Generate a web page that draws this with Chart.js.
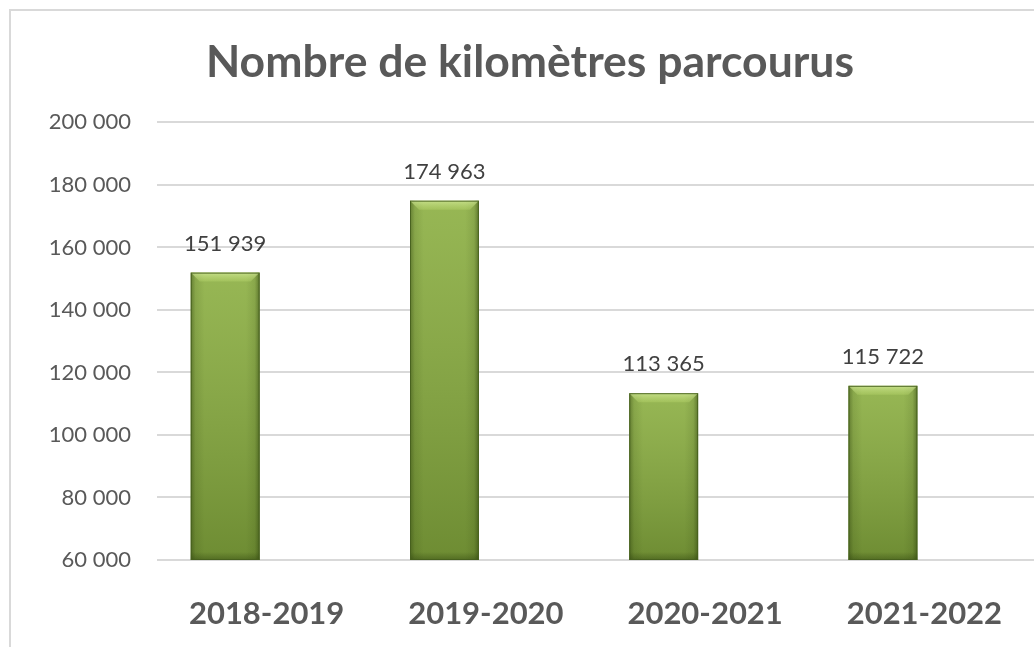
<!DOCTYPE html>
<html>
<head>
<meta charset="utf-8">
<script src="https://cdn.jsdelivr.net/npm/chart.js@4"></script>
<style>
  html, body { margin: 0; padding: 0; background: #ffffff; overflow: hidden; }
  #frame { position: absolute; left: 9px; top: 9px; width: 1040px; height: 660px;
           border-top: 2px solid #d9d9d9; border-left: 2px solid #d9d9d9; box-sizing: border-box; }
  #wrap { position: absolute; left: 0; top: 0; width: 1034px; height: 647px; }
</style>
</head>
<body>
<div id="frame"></div>
<div id="wrap"><canvas id="c"></canvas></div>
<script>
const titleText = 'Nombre de kilomètres parcourus';
const categories = ['2018-2019', '2019-2020', '2020-2021', '2021-2022'];
const kilometres = [151939, 174963, 113365, 115722];
const emptySeries = [null, null, null, null];
const yMin = 60000, yMax = 200000, yStep = 20000;

const fmt = v => String(v).replace(/\B(?=(\d{3})+(?!\d))/g, ' ');

const bevelPlugin = {
  id: 'bevel',
  afterDatasetsDraw(chart) {
    const ctx = chart.ctx;
    const meta = chart.getDatasetMeta(0);
    const area = chart.chartArea;
    meta.data.forEach((bar, i) => {
      const p = bar.getProps(['x', 'y', 'base', 'width'], true);
      const l = p.x - p.width / 2, r = p.x + p.width / 2, t = p.y;
      const b = Math.min(p.base, area.bottom);
      const w = r - l, h = b - t;
      const bv = 9;
      ctx.save();
      let g = ctx.createLinearGradient(0, t, 0, b);
      g.addColorStop(0, 'rgba(255,255,220,0.14)');
      g.addColorStop(1, 'rgba(0,0,0,0.18)');
      ctx.fillStyle = g;
      ctx.fillRect(l, t, w, h);
      g = ctx.createLinearGradient(l, 0, r, 0);
      g.addColorStop(0, 'rgba(40,60,10,0.45)');
      g.addColorStop(0.07, 'rgba(40,60,10,0.12)');
      g.addColorStop(0.2, 'rgba(40,60,10,0)');
      g.addColorStop(0.8, 'rgba(40,60,10,0)');
      g.addColorStop(0.93, 'rgba(40,60,10,0.12)');
      g.addColorStop(1, 'rgba(40,60,10,0.5)');
      ctx.fillStyle = g;
      ctx.fillRect(l, t, w, h);
      g = ctx.createLinearGradient(0, b - 8, 0, b);
      g.addColorStop(0, 'rgba(40,60,10,0)');
      g.addColorStop(1, 'rgba(40,60,10,0.4)');
      ctx.fillStyle = g;
      ctx.fillRect(l, b - 8, w, 8);
      ctx.beginPath();
      ctx.moveTo(l, t);
      ctx.lineTo(r, t);
      ctx.lineTo(r - bv, t + bv);
      ctx.lineTo(l + bv, t + bv);
      ctx.closePath();
      g = ctx.createLinearGradient(0, t, 0, t + bv);
      g.addColorStop(0, 'rgba(235,255,180,0.55)');
      g.addColorStop(1, 'rgba(200,230,120,0.25)');
      ctx.fillStyle = g;
      ctx.fill();
      ctx.strokeStyle = 'rgba(70,95,30,0.9)';
      ctx.lineWidth = 1;
      ctx.strokeRect(l + 0.5, t + 0.5, w - 1, h - 1);
      ctx.restore();

      ctx.save();
      ctx.font = '22px Lato';
      ctx.fillStyle = '#404040';
      ctx.textAlign = 'center';
      ctx.textBaseline = 'middle';
      ctx.fillText(fmt(kilometres[i]), p.x, t - 29);
      ctx.restore();
    });
  }
};

new Chart(document.getElementById('c'), {
  type: 'bar',
  data: {
    labels: categories,
    datasets: [
      { label: 'Kilomètres', data: kilometres, backgroundColor: '#86ab3e', borderWidth: 0,
        categoryPercentage: 0.756, barPercentage: 0.831 },
      { label: '', data: emptySeries, backgroundColor: 'transparent',
        categoryPercentage: 0.756, barPercentage: 0.831 }
    ]
  },
  options: {
    responsive: true,
    maintainAspectRatio: false,
    animation: false,
    layout: { padding: { left: 26, right: 0, top: 0, bottom: 0 } },
    plugins: {
      legend: { display: false },
      tooltip: { enabled: false },
      title: {
        display: true, text: titleText, color: '#595959',
        font: { family: 'Lato', size: 44.5, weight: 'bold', lineHeight: 1.2 },
        padding: { top: 36, bottom: 33 }
      }
    },
    scales: {
      x: {
        grid: { display: false },
        border: { display: false },
        ticks: { color: '#595959', padding: 27, font: { family: 'Lato', size: 31, weight: 'bold' } },
        afterFit(scale) { scale.height = 87; }
      },
      y: {
        min: yMin, max: yMax,
        grid: { color: '#d9d9d9', lineWidth: 2, drawTicks: false },
        border: { display: false },
        ticks: { stepSize: yStep, color: '#595959', padding: 26, font: { family: 'Lato', size: 22 },
                 callback: v => fmt(v) },
        afterFit(scale) { scale.width = 131; }
      }
    }
  },
  plugins: [bevelPlugin]
});
</script>
</body>
</html>
